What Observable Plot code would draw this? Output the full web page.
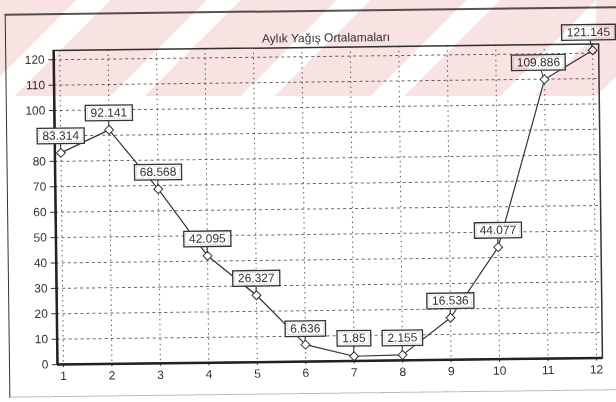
<!DOCTYPE html>
<html><head><meta charset="utf-8">
<script src="https://cdn.jsdelivr.net/npm/d3@7"></script>
<script src="https://cdn.jsdelivr.net/npm/@observablehq/plot@0.6"></script>
<style>
html,body{margin:0;padding:0;background:#fff;}
#wrap{position:relative;width:616px;height:402px;overflow:hidden;font-family:Arial,"Liberation Sans",sans-serif;}
#scan{position:absolute;left:0;top:0;width:616px;height:402px;transform:rotate(-0.7deg);transform-origin:308px 201px;}
#outer{position:absolute;left:7px;top:10px;width:640px;height:381px;border-left:1px solid #333;border-top:2px solid #555;border-bottom:1px dotted #777;}
#chart{position:absolute;left:0;top:0;}
#wm{position:absolute;left:0;top:0;width:616px;height:96px;pointer-events:none;mix-blend-mode:multiply;
 background:repeating-linear-gradient(135deg, rgba(249,226,226,1) 0 68px, rgba(255,255,255,0) 68px 92px);
 background-position:-20px 0;}
</style></head>
<body><div id="wrap"><div id="scan"><div id="outer"></div><div id="chart"></div></div><div id="wm"></div></div>
<script>
// ---- data ----
const months = [1, 2, 3, 4, 5, 6, 7, 8, 9, 10, 11, 12];
const values = [83.314, 92.141, 68.568, 42.095, 26.327, 6.636, 1.85, 2.155, 16.536, 44.077, 109.886, 121.145];
const valueLabels = ["83.314", "92.141", "68.568", "42.095", "26.327", "6.636", "1.85", "2.155", "16.536", "44.077", "109.886", "121.145"];
const yTicks = [0, 10, 20, 30, 40, 50, 60, 70, 80, 90, 100, 110, 120];
const xTickLabels = ["1", "2", "3", "4", "5", "6", "7", "8", "9", "10", "11", "12"];
const titleText = "Aylık Yağış Ortalamaları";

// ---- layout / style config ----
const xDomain = [0.876, 12.124];
const yDomain = [0, 123.6];
// pixel offsets of each value label's box centre from its point
const labelOffsets = [[0,-17],[0,-17],[0,-17],[0,-17],[0,-17],[0,-16],[0,-18],[0,-17],[0,-17],[0,-17],[-6,-17],[-4,-18]];
// the 90 tick label is hidden behind the 83.314 label box in the reference
const hiddenTick = 90;

const data = months.map((m, i) => ({month: m, value: values[i], label: valueLabels[i]}));

const labelMarks = data.map((d, i) => Plot.text([d], {
  x: "month", y: "value", text: "label",
  dx: labelOffsets[i][0], dy: labelOffsets[i][1],
  fontSize: 12, fill: "#333", className: "lbl"
}));

const chart = Plot.plot({
  width: 616, height: 402,
  marginLeft: 55, marginRight: 16, marginTop: 47, marginBottom: 41,
  style: {background: "transparent", fontFamily: "Arial, 'Liberation Sans', sans-serif", fontSize: "12px", color: "#333", overflow: "visible"},
  x: {domain: xDomain, ticks: months, tickFormat: (d) => xTickLabels[months.indexOf(d)], tickSize: 3, tickPadding: 4, label: null},
  y: {domain: yDomain, ticks: yTicks, tickFormat: (d) => d === hiddenTick ? "" : String(d), tickSize: 5, tickPadding: 4, label: null},
  marks: [
    Plot.gridY(yTicks.filter(t => t > 0), {stroke: "#444", strokeOpacity: 0.8, strokeDasharray: "3,3"}),
    Plot.gridX(months, {stroke: "#444", strokeOpacity: 0.85, strokeDasharray: "1.5,3.5"}),
    Plot.frame({stroke: "#333", strokeWidth: 1.5}),
    Plot.ruleX([xDomain[0]], {stroke: "#222", strokeWidth: 2.5}),
    Plot.ruleY([yDomain[0]], {stroke: "#222", strokeWidth: 2.5}),
    Plot.line(data, {x: "month", y: "value", stroke: "#333", strokeWidth: 1.2}),
    Plot.dot(data, {x: "month", y: "value", symbol: "diamond2", r: 4, fill: "white", stroke: "#333", strokeWidth: 1, className: "pts"}),
    ...labelMarks,
    Plot.text([titleText], {frameAnchor: "top", dy: -14, fontSize: 12, fill: "#333"})
  ]
});
document.getElementById("chart").appendChild(chart);

// ---- label boxes and leader lines (positioned through the plot's scales) ----
const ns = "http://www.w3.org/2000/svg";
const xs = chart.scale("x"), ys = chart.scale("y");
const leaderG = document.createElementNS(ns, "g");
const boxG = document.createElementNS(ns, "g");
const ptsG = chart.querySelector("g.pts");
chart.insertBefore(leaderG, ptsG);
const lblGroups = chart.querySelectorAll("g.lbl");
chart.insertBefore(boxG, lblGroups[0]);
function mk(tag, attrs, parent) {
  const el = document.createElementNS(ns, tag);
  for (const k in attrs) el.setAttribute(k, attrs[k]);
  parent.appendChild(el);
  return el;
}
lblGroups.forEach((g, i) => {
  const t = g.querySelector("text");
  const tw = t.getBBox().width;
  const px = xs.apply(data[i].month), py = ys.apply(data[i].value);
  const cx = px + labelOffsets[i][0] + 0.5, cy = py + labelOffsets[i][1] + 0.5;
  const w = tw + 10, h = 15.5;
  const x0 = cx - w / 2, y0 = cy - h / 2;
  mk("line", {x1: px, y1: py, x2: cx, y2: cy, stroke: "#333", "stroke-width": 1}, leaderG);
  mk("rect", {x: x0, y: y0, width: w, height: h, fill: "white", stroke: "#333", "stroke-width": 1.3}, boxG);
  mk("rect", {x: x0 + 2, y: y0 + 2, width: w - 4, height: h - 4, fill: "none", stroke: "#aaa", "stroke-width": 0.8, "stroke-dasharray": "1,1.5"}, boxG);
});
</script>
</body></html>
